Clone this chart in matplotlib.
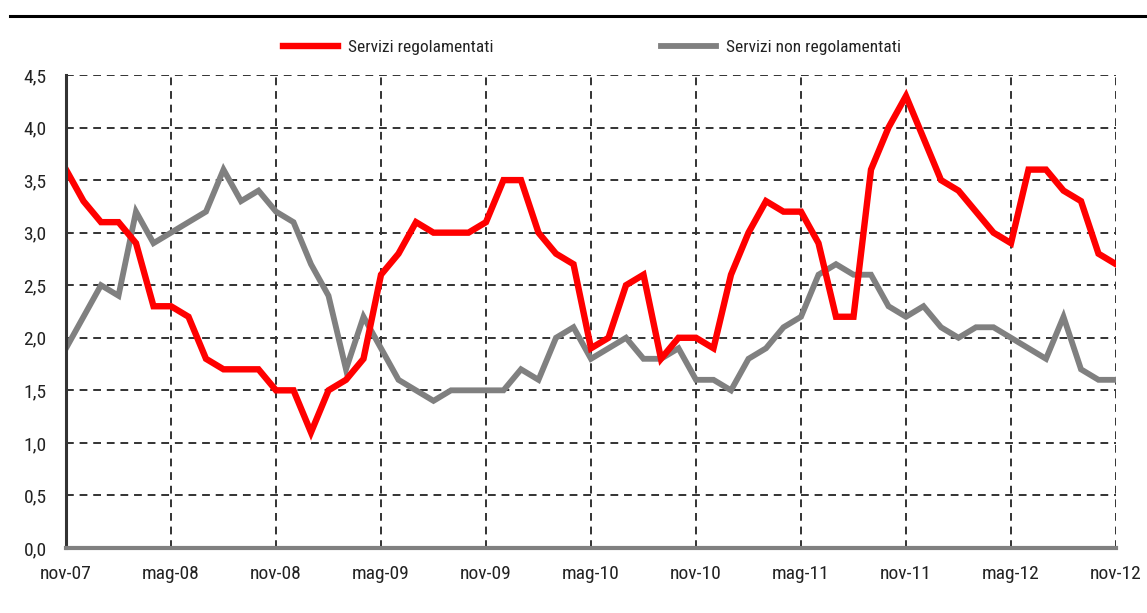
import matplotlib
matplotlib.use("Agg")
import matplotlib.pyplot as plt
from matplotlib.lines import Line2D
from matplotlib import font_manager

months = ["nov-07", "mag-08", "nov-08", "mag-09", "nov-09", "mag-10",
          "nov-10", "mag-11", "nov-11", "mag-12", "nov-12"]

regolamentati = [3.6, 3.3, 3.1, 3.1, 2.9, 2.3, 2.3, 2.2, 1.8, 1.7,
                 1.7, 1.7, 1.5, 1.5, 1.1, 1.5, 1.6, 1.8, 2.6, 2.8,
                 3.1, 3.0, 3.0, 3.0, 3.1, 3.5, 3.5, 3.0, 2.8, 2.7,
                 1.9, 2.0, 2.5, 2.6, 1.8, 2.0, 2.0, 1.9, 2.6, 3.0,
                 3.3, 3.2, 3.2, 2.9, 2.2, 2.2, 3.6, 4.0, 4.3, 3.9,
                 3.5, 3.4, 3.2, 3.0, 2.9, 3.6, 3.6, 3.4, 3.3, 2.8,
                 2.7]

non_regolamentati = [1.9, 2.2, 2.5, 2.4, 3.2, 2.9, 3.0, 3.1, 3.2, 3.6,
                     3.3, 3.4, 3.2, 3.1, 2.7, 2.4, 1.7, 2.2, 1.9, 1.6,
                     1.5, 1.4, 1.5, 1.5, 1.5, 1.5, 1.7, 1.6, 2.0, 2.1,
                     1.8, 1.9, 2.0, 1.8, 1.8, 1.9, 1.6, 1.6, 1.5, 1.8,
                     1.9, 2.1, 2.2, 2.6, 2.7, 2.6, 2.6, 2.3, 2.2, 2.3,
                     2.1, 2.0, 2.1, 2.1, 2.0, 1.9, 1.8, 2.2, 1.7, 1.6,
                     1.6]

yticks = [0.0, 0.5, 1.0, 1.5, 2.0, 2.5, 3.0, 3.5, 4.0, 4.5]

names = {f.name for f in font_manager.fontManager.ttflist}
fam = "Liberation Sans"
for cand in ["Liberation Sans Narrow", "Arial Narrow", "Roboto Condensed", "Open Sans Condensed"]:
    if cand in names:
        fam = cand
        break
plt.rcParams["font.family"] = [fam, "DejaVu Sans"]

W, H = 1147, 613
fig = plt.figure(figsize=(W / 100, H / 100), dpi=100)
ax = fig.add_axes([66 / W, 1 - 548 / H, (1116 - 66) / W, (548 - 75) / H])

x = list(range(len(regolamentati)))
l1, = ax.plot(x, regolamentati, color="#ff0000", lw=4.6, solid_joinstyle="miter",
              label="Servizi regolamentati", zorder=4)
l2, = ax.plot(x, non_regolamentati, color="#808080", lw=4.2, solid_joinstyle="miter",
              label="Servizi non regolamentati", zorder=3)

ax.set_xlim(0, len(x) - 1)
ax.set_ylim(0, 4.5)
ax.set_xticks(list(range(0, len(x), 6)))
ax.set_xticklabels(months)
ax.set_yticks(yticks)
ax.set_yticklabels([f"{v:.1f}".replace(".", ",") for v in yticks])

ax.grid(True, color="#333333", linestyle=(0, (4, 3)), linewidth=1.4, zorder=1)
ax.set_axisbelow(True)
for s in ["top", "right"]:
    ax.spines[s].set_visible(False)
ax.spines["left"].set_color("#333333")
ax.spines["left"].set_linewidth(2.2)
ax.spines["bottom"].set_color("#808080")
ax.spines["bottom"].set_linewidth(3)
ax.spines["left"].set_zorder(5)
ax.spines["bottom"].set_zorder(5)

ax.tick_params(axis="both", length=0, labelsize=14, colors="#222222")
ax.tick_params(axis="x", pad=12)
ax.tick_params(axis="y", pad=14)

leg = ax.legend(handles=[l1, l2], ncol=2, frameon=False, fontsize=12.5,
                loc="center left", bbox_to_anchor=(217 / (1116 - 66), (548 - 47) / (548 - 75)),
                handlelength=3.16, handletextpad=0.57, columnspacing=9.65,
                borderaxespad=0, borderpad=0)
for t in leg.get_texts():
    t.set_color("#222222")

fig.add_artist(Line2D([10 / W, 1.0], [1 - 16 / H, 1 - 16 / H], color="black", lw=2.2,
                      transform=fig.transFigure))

fig.savefig("out.png", dpi=100)
